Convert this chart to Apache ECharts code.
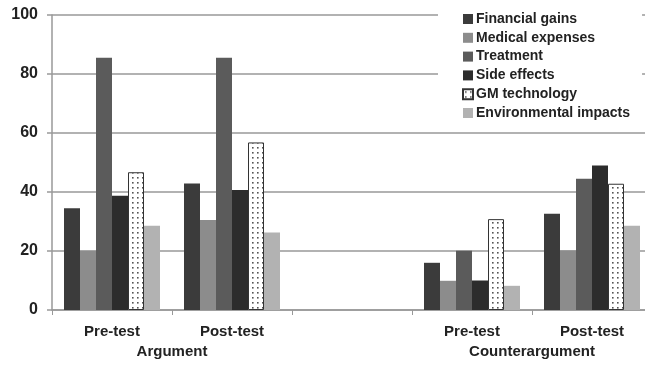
<!DOCTYPE html>
<html>
<head>
<meta charset="utf-8">
<script src="https://cdn.jsdelivr.net/npm/echarts@6/dist/echarts.min.js"></script>
<style>
html,body{margin:0;padding:0;background:#fff;}
#chart{width:645px;height:367px;}
</style>
</head>
<body>
<div id="chart"></div>
<script>
var categories = ['Pre-test', 'Post-test', '', 'Pre-test', 'Post-test'];
var groupLabels = ['Argument', 'Counterargument'];
var groupPositions = [1, 4];
var yTicks = [0, 20, 40, 60, 80, 100];

var financialGains = [34.5, 42.9, null, 16.0, 32.6];
var medicalExpenses = [20.1, 30.5, null, 9.9, 20.2];
var treatment = [85.5, 85.5, null, 20.1, 44.5];
var sideEffects = [38.7, 40.7, null, 10.0, 49.0];
var gmTechnology = [46.7, 56.8, null, 30.8, 42.8];
var environmentalImpacts = [28.6, 26.3, null, 8.2, 28.6];

var seriesNames = ['Financial gains', 'Medical expenses', 'Treatment', 'Side effects', 'GM technology', 'Environmental impacts'];
var seriesData = [financialGains, medicalExpenses, treatment, sideEffects, gmTechnology, environmentalImpacts];
var seriesColors = ['#3b3b3b', '#8c8c8c', '#5b5b5b', '#2c2c2c', null, '#b2b2b2'];

// dotted pattern for GM technology
var pc = document.createElement('canvas');
pc.width = 5; pc.height = 5;
var pctx = pc.getContext('2d');
pctx.fillStyle = '#ffffff';
pctx.fillRect(0, 0, 5, 5);
pctx.fillStyle = '#555555';
pctx.fillRect(2, 2, 1.6, 1.6);

var font = '"Liberation Sans", Arial, sans-serif';

var series = seriesNames.map(function (name, i) {
  var s = {
    name: name,
    type: 'bar',
    data: seriesData[i],
    barGap: '0%',
    barCategoryGap: '20%',
    itemStyle: { color: seriesColors[i] }
  };
  if (seriesColors[i] === null) {
    s.itemStyle = { color: { image: pc, repeat: 'repeat' }, borderColor: '#333', borderWidth: 1 };
  }
  return s;
});

var chart = echarts.init(document.getElementById('chart'), null, { renderer: 'canvas' });
chart.setOption({
  animation: false,
  backgroundColor: '#fff',
  grid: { left: 52, top: 15, width: 600, height: 295, containLabel: false, outerBoundsMode: 'none' },
  legend: {
    orient: 'vertical',
    left: 438,
    top: 3,
    padding: [9, 12, 8, 24],
    backgroundColor: '#fff',
    itemWidth: 10,
    itemHeight: 10,
    itemGap: 4.8,
    icon: 'rect',
    textStyle: { fontFamily: font, fontSize: 14, fontWeight: 'bold', color: '#222', lineHeight: 14, padding: [0, 0, 0, -2] },
    data: seriesNames
  },
  xAxis: [{
    type: 'category',
    data: categories,
    axisLine: { lineStyle: { color: '#999', width: 1.5 } },
    axisTick: { show: true, length: 5, lineStyle: { color: '#999' } },
    axisLabel: { fontFamily: font, fontSize: 15, fontWeight: 'bold', color: '#222', margin: 14 }
  }, {
    type: 'value',
    position: 'bottom',
    min: 0,
    max: 5,
    interval: 1,
    axisLine: { show: false },
    axisTick: { show: false },
    splitLine: { show: false },
    axisLabel: {
      margin: 34,
      fontFamily: font, fontSize: 15, fontWeight: 'bold', color: '#222',
      showMinLabel: true, showMaxLabel: true,
      formatter: function (v) {
        var idx = groupPositions.indexOf(Math.round(v));
        return idx >= 0 ? groupLabels[idx] : '';
      }
    }
  }],
  yAxis: {
    type: 'value',
    min: yTicks[0],
    max: yTicks[yTicks.length - 1],
    interval: 20,
    axisLine: { show: true, lineStyle: { color: '#999', width: 1.5 } },
    axisTick: { show: true, length: 5, lineStyle: { color: '#999', width: 1.5 } },
    splitLine: { lineStyle: { color: '#999', width: 1.5 } },
    axisLabel: { fontFamily: font, fontSize: 16, fontWeight: 'bold', color: '#222', margin: 14 }
  },
  series: series
});
</script>
</body>
</html>
